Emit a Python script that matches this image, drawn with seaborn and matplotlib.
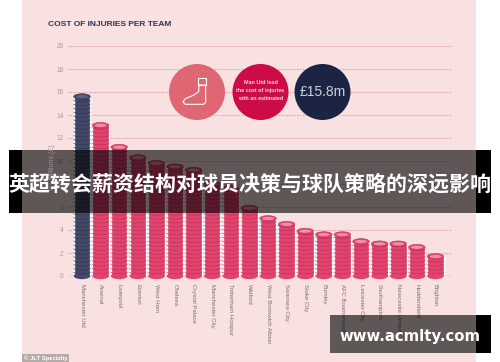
import numpy as np
import pandas as pd
import matplotlib
matplotlib.use("Agg")
import matplotlib.pyplot as plt
from matplotlib.patches import Ellipse, Arc, Rectangle, Circle, Polygon
import seaborn as sns

teams = ["Manchester Utd", "Arsenal", "Liverpool", "Everton", "West Ham", "Chelsea",
         "Crystal Palace", "Manchester City", "Tottenham Hotspur", "Watford",
         "West Bromwich Albion", "Swansea City", "Stoke City", "Burnley", "AFC Bournemouth",
         "Leicester City", "Southampton", "Newcastle United", "Huddersfield", "Brighton"]
costs = [15.6, 13.1, 11.2, 10.3, 9.8, 9.5, 9.2, 8.0, 7.6, 5.9,
         5.0, 4.5, 3.9, 3.6, 3.6, 3.0, 2.8, 2.8, 2.5, 1.7]
yticks = list(range(0, 21, 2))
title = "COST OF INJURIES PER TEAM"
callout = ["Man Utd lead", "the cost of injuries", "with an estimated"]
callout_value = "£15.8m"
banner = "英超转会薪资结构对球员决策与球队策略的深远影响"
site = "www.acmlty.com"

PANEL = "#f8e1e0"; RED = "#e2436d"; NAVY = "#434867"
sns.set_style("white")
plt.rcParams["font.family"] = ["Liberation Sans", "DejaVu Sans"]

W, H = 500, 362
fig = plt.figure(figsize=(W / 100, H / 100), dpi=100, facecolor="white")

def pixel_axes(z):
    a = fig.add_axes([0, 0, 1, 1], zorder=z)
    a.set_xlim(0, W); a.set_ylim(H, 0); a.axis("off"); a.patch.set_alpha(0)
    return a

bg = pixel_axes(0)
bg.add_patch(Rectangle((22, 0), 454, H, fc=PANEL, ec="none"))

ax = fig.add_axes([68 / W, (H - 276) / H, 384 / W, 230 / H], zorder=1)
ax.patch.set_alpha(0)
df = pd.DataFrame({"team": teams, "cost": costs})
palette = {t: (NAVY if i == 0 else RED) for i, t in enumerate(teams)}
sns.barplot(data=df, x="team", y="cost", hue="team", palette=palette, dodge=False,
            width=0.89, saturation=1, legend=False, ax=ax, zorder=3)
ax.set_xlim(-0.753, 19.89); ax.set_ylim(0, 20)
ax.set_yticks(yticks); ax.set_xlabel(""); ax.set_ylabel("")
ax.set_xticks(range(len(teams)))
ax.set_xticklabels(teams, rotation=270, ha="center", va="top", fontsize=4.3, color="#77706f")
ax.tick_params(axis="x", length=0, pad=6)
ax.tick_params(axis="y", length=0, pad=3, labelsize=4.8, labelcolor="#a89c9c")
for s in ax.spines.values():
    s.set_visible(False)
ax.grid(axis="y", color="#e58c98", linestyle=(0, (1, 1.4)), linewidth=0.8)
ax.set_axisbelow(True)
ax.axhline(0, color="#e58c98", lw=1, zorder=1)

bw, eh, step = 0.89, 0.30, 0.34
for i, v in enumerate(costs):
    base = NAVY if i == 0 else RED
    edge = "#2f3452" if i == 0 else "#bd3059"
    top = "#5d6282" if i == 0 else "#f18fa3"
    ax.add_patch(Ellipse((i, 0), bw, 0.55, fc=base, ec="none", zorder=4, clip_on=False))
    for y in np.arange(step, v, step):
        ax.add_patch(Arc((i, y), bw, eh, theta1=180, theta2=360, ec=edge, lw=0.45, zorder=5, clip_on=False))
    ax.add_patch(Ellipse((i, v), bw, 0.5, fc=base, ec=edge, lw=0.4, zorder=6, clip_on=False))
    ax.add_patch(Ellipse((i, v), bw * 0.72, 0.28, fc=top, ec="none", zorder=7, clip_on=False))

fg = pixel_axes(2)
fg.text(48, 24, title, fontsize=6.0, fontweight="bold", color="#2d3455", va="center", ha="left")
fg.text(52, 144, "Millions (£)", rotation=90, fontsize=5, color="#a08f8f", ha="center", va="top")

fg.add_patch(Circle((197, 92), 28, fc="#df6673", ec="none"))
fg.add_patch(Circle((260.5, 92), 28, fc="#cc0b47", ec="none"))
fg.add_patch(Circle((322.5, 92), 28, fc="#1c2444", ec="none"))
sock = [(117, 90), (137, 90), (137, 142), (131, 148), (76, 148), (69, 141), (76, 131), (100, 121), (116, 110)]
fg.add_patch(Polygon([(160 + x / 3, 55 + y / 3) for x, y in sock], fc="none", ec="white", lw=0.8))
fg.add_patch(Rectangle((160 + 115 / 3, 55 + 70 / 3), 23 / 3, 20 / 3, fc="none", ec="white", lw=0.8))
for k, line in enumerate(callout):
    fg.text(260.5, 83 + k * 7.8, line, fontsize=3.9, fontweight="bold", color="#f6d8dc", ha="center", va="center")
fg.text(322.5, 91.5, callout_value, fontsize=10, color="#c9d0e0", ha="center", va="center")

fg.add_patch(Rectangle((22, 354), 47, 8, fc="#b9a9a9", ec="none"))
fg.text(24, 358, "© JLT Specialty", fontsize=4.2, fontweight="bold", color="white", va="center", ha="left")

fg.add_patch(Rectangle((22, 150), 454, 63, fc="black", alpha=0.615, ec="none"))
fg.add_patch(Rectangle((9, 150), 13, 63, fc="black", ec="none"))
fg.add_patch(Rectangle((476, 150), 15, 63, fc="black", ec="none"))
fg.text(250, 184, banner, fontsize=15.1, fontweight="bold", color="white", ha="center", va="center",
        family=["Noto Sans CJK SC", "DejaVu Sans"])

fg.add_patch(Rectangle((330, 315), 146, 38, fc="black", alpha=0.615, ec="none"))
fg.add_patch(Rectangle((476, 315), 15, 38, fc="black", ec="none"))
fg.text(410, 336, site, fontsize=10.7, fontweight="bold", color="white", ha="center", va="center",
        family=["DejaVu Sans"])

fig.savefig("out.png", dpi=100, facecolor="white")
